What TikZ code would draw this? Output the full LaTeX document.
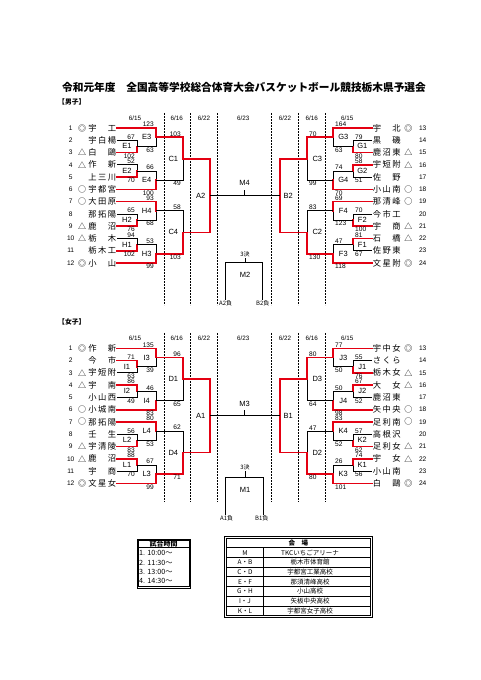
\documentclass[tikz,border=0pt]{standalone}
\usepackage{fontspec}
\setmainfont{Liberation Sans}
\setsansfont{Liberation Sans}
\newfontfamily\cjk{Noto Sans CJK JP}
\definecolor{wred}{RGB}{228,0,18}
\newcount\nodeno
\newcommand\nx{\global\advance\nodeno by 1\relax}
\newcommand\nm[3]{{\cjk\makebox[9.7pt]{#1}\makebox[9.7pt]{#2}\makebox[9.7pt]{#3}}}
\newcommand\mt[6]{%
  \draw[bk] (#2,#3) -- (#1,#3) -- (#1,#5) -- (#4,#5);%
  \ifcase#6\relax\or
    \draw[rd] (#2,#3) -- (#1,#3) -- (#1,{(#3+#5)/2});\or
    \draw[rd] (#4,#5) -- (#1,#5) -- (#1,{(#3+#5)/2});\or
    \draw[rd] (#2,#3) -- (#1,#3) -- (#1,#5) -- (#4,#5);\fi}
\newcommand\mL[8]{\mt{#1}{#2}{#3}{#4}{#5}{#6}%
  \nx\node[sc,anchor=south east] (s\the\nodeno) at (#1-2,#3-0.9) {#7};%
  \nx\node[sc,anchor=north east] (s\the\nodeno) at (#1-2,#5+0.9) {#8};}
\newcommand\mR[8]{\mt{#1}{#2}{#3}{#4}{#5}{#6}%
  \nx\node[sc,anchor=south west] (s\the\nodeno) at (#1+2,#3-0.9) {#7};%
  \nx\node[sc,anchor=north west] (s\the\nodeno) at (#1+2,#5+0.9) {#8};}
\newcommand\lab[3]{\nx\node[lb] (l\the\nodeno) at (#1,#2) {#3};}
\begin{document}
\begin{tikzpicture}[x=1pt,y=-1pt,
  bk/.style={draw=black,line width=0.7pt},
  rd/.style={draw=wred,line width=1.6pt,line cap=rect},
  sc/.style={font=\fontsize{6.6}{7}\selectfont,inner sep=0pt},
  lb/.style={font=\fontsize{7.5}{8}\selectfont,inner sep=0pt},
  dt/.style={font=\fontsize{6.3}{7}\selectfont,inner sep=0pt},
  num/.style={font=\fontsize{6.6}{7}\selectfont,inner sep=0pt},
  mk/.style={font=\cjk\fontsize{8}{8}\selectfont,inner sep=0pt},
  tm/.style={font=\fontsize{8.3}{9}\selectfont,inner sep=0pt},
  jp/.style={font=\cjk\fontsize{6}{7}\selectfont,inner sep=0pt},
  tb/.style={font=\cjk\fontsize{6.5}{7}\selectfont,inner sep=0pt},
  tl/.style={font=\cjk\fontsize{7.2}{8}\selectfont,inner sep=0pt},
  dsh/.style={draw=black,line width=0.5pt,dash pattern=on 1.6pt off 1.4pt}]
\useasboundingbox (0,0) rectangle (481,680);
\fill[white] (0,0) rectangle (481,680);
\node[font=\cjk\bfseries\fontsize{10.7}{12}\selectfont,inner sep=0pt] (title) at (244,87) {令和元年度　全国高等学校総合体育大会バスケットボール競技栃木県予選会};
\node[font=\cjk\bfseries\fontsize{6.8}{8}\selectfont,inner sep=0pt,anchor=west] (boys) at (58,102) {【男子】};
\node[font=\cjk\bfseries\fontsize{6.8}{8}\selectfont,inner sep=0pt,anchor=west] (girls) at (58,322) {【女子】};
% dashed separators
\foreach \x in {164,190.7,217,271.7,298.3,325.7}{
  \draw[dsh] (\x,113) -- (\x,305);
  \draw[dsh] (\x,333) -- (\x,502);}
% ================= BOYS =================
\foreach \x/\d [count=\k] in {135/6{/}15,176.7/6{/}16,204/6{/}22,243.3/6{/}23,285/6{/}22,311.7/6{/}16,347.3/6{/}15}
  {\node[dt] (bd\k) at (\x,118) {\d};}
\foreach \n/\m/\a/\b/\c [count=\i from 0] in {1/◎/宇//工,2//宇/白/楊,3/△/白//鷗,4/△/作//新,5//上/三/川,6/○/宇/都/宮,7/○/大/田/原,8//那/拓/陽,9/△/鹿//沼,10/△/栃//木,11//栃/木/工,12/◎/小//山}{
  \pgfmathsetmacro\yy{128+\i*12.27}
  \node[num] (bn\n) at (70.7,\yy) {\n};
  \node[mk] (bm\n) at (82,\yy) {\m};
  \node[tm,anchor=east] (bt\n) at (117,\yy) {\nm{\a}{\b}{\c}};}
\foreach \n/\m/\a/\b/\c [count=\i from 0] in {13/◎/宇//北,14//黒//磯,15/△/鹿/沼/東,16/△/宇/短/附,17//佐//野,18/○/小/山/南,19/○/那/清/峰,20//今/市/工,21/△/宇//商,22/△/石//橋,23//佐/野/東,24/◎/文/星/附}{
  \pgfmathsetmacro\yy{128+\i*12.27}
  \node[num] (bn\n) at (422.7,\yy) {\n};
  \node[mk] (bm\n) at (408.3,\yy) {\m};
  \node[tm,anchor=west] (bt\n) at (372,\yy) {\nm{\a}{\b}{\c}};}
% left boys
\mL{137}{117}{140.3}{117}{152.5}{2}{67}{102}
\mL{156}{117}{128}{137}{146.4}{1}{123}{63}
\mL{137}{117}{164.8}{117}{177.1}{2}{52}{70}
\mL{156}{137}{171}{117}{189.4}{2}{66}{100}
\mL{183}{156}{137.2}{156}{180.2}{1}{103}{49}
\mL{137}{117}{213.9}{117}{226.2}{2}{65}{76}
\mL{156}{117}{201.6}{137}{220}{1}{93}{68}
\mL{137}{117}{238.4}{117}{250.7}{2}{94}{102}
\mL{156}{137}{244.6}{117}{263}{2}{53}{99}
\mL{183}{156}{210.8}{156}{253.8}{2}{58}{103}
\mt{210}{183}{158.7}{183}{232.3}{3}
% right boys
\mR{353}{372}{140.3}{372}{152.5}{2}{79}{80}
\mR{333}{372}{128}{353}{146.4}{1}{164}{63}
\mR{353}{372}{164.8}{372}{177.1}{1}{58}{51}
\mR{333}{353}{171}{372}{189.4}{2}{74}{70}
\mR{307}{333}{137.2}{333}{180.2}{1}{70}{99}
\mR{353}{372}{213.9}{372}{226.2}{2}{70}{100}
\mR{333}{372}{201.6}{353}{220}{1}{69}{123}
\mR{353}{372}{238.4}{372}{250.7}{1}{81}{67}
\mR{333}{353}{244.6}{372}{263}{2}{47}{118}
\mR{307}{333}{210.8}{333}{253.8}{2}{83}{130}
\mt{280}{307}{158.7}{307}{232.3}{3}
\lab{127}{146.4}{E1}\lab{146.7}{137.2}{E3}\lab{127}{171}{E2}\lab{146.7}{180.2}{E4}
\lab{173.3}{158.7}{C1}\lab{127}{220}{H2}\lab{146.7}{210.8}{H4}\lab{127}{244.6}{H1}
\lab{146.7}{253.8}{H3}\lab{173.3}{232.3}{C4}\lab{200.7}{195.5}{A2}
\lab{362.3}{146.4}{G1}\lab{343.3}{137.2}{G3}\lab{362.3}{171}{G2}\lab{343.3}{180.2}{G4}
\lab{317.3}{158.7}{C3}\lab{362.3}{220}{F2}\lab{343.3}{210.8}{F4}\lab{362.3}{244.6}{F1}
\lab{343.3}{253.8}{F3}\lab{317.3}{232.3}{C2}\lab{288.3}{195.5}{B2}
% final boys
\draw[bk] (210,195.5) -- (280,195.5);
\draw[bk] (244.5,190) -- (244.5,195.5);
\node[lb] (m4) at (244.5,183) {M4};
% 3rd place boys
\node[jp] (b3) at (245,254) {3決};
\draw[bk] (245,258) -- (245,262.7);
\draw[bk] (225.7,300) -- (225.7,262.7) -- (262.7,262.7) -- (262.7,300);
\node[lb] (m2) at (245,275) {M2};
\node[jp,anchor=north] (a2l) at (225.7,300.2) {A2負};
\node[jp,anchor=north] (b2l) at (262.7,300.2) {B2負};
% ================= GIRLS =================
\begin{scope}[yshift=-220.3pt]
\foreach \x/\d [count=\k] in {135/6{/}15,176.7/6{/}16,204/6{/}22,243.3/6{/}23,285/6{/}22,311.7/6{/}16,347.3/6{/}15}
  {\node[dt] (gd\k) at (\x,118) {\d};}
\foreach \n/\m/\a/\b/\c [count=\i from 0] in {1/◎/作//新,2//今//市,3/△/宇/短/附,4/△/宇//南,5//小/山/西,6/○/小/城/南,7/○/那/拓/陽,8//壬//生,9/△/宇/清/陵,10/△/鹿//沼,11//宇//商,12/◎/文/星/女}{
  \pgfmathsetmacro\yy{128+\i*12.27}
  \node[num] (gn\n) at (70.7,\yy) {\n};
  \node[mk] (gm\n) at (82,\yy) {\m};
  \node[tm,anchor=east] (gt\n) at (117,\yy) {\nm{\a}{\b}{\c}};}
\foreach \n/\m/\a/\b/\c [count=\i from 0] in {13/◎/宇/中/女,14//さ/く/ら,15/△/栃/木/女,16/△/大//女,17//鹿/沼/東,18/○/矢/中/央,19/○/足/利/南,20//高/根/沢,21/△/足/利/女,22/△/宇//女,23//小/山/南,24/◎/白//鷗}{
  \pgfmathsetmacro\yy{128+\i*12.27}
  \node[num] (gn\n) at (422.7,\yy) {\n};
  \node[mk] (gm\n) at (408.3,\yy) {\m};
  \node[tm,anchor=west] (gt\n) at (372,\yy) {\nm{\a}{\b}{\c}};}
\mL{137}{117}{140.3}{117}{152.5}{1}{71}{63}
\mL{156}{117}{128}{137}{146.4}{1}{135}{39}
\mL{137}{117}{164.8}{117}{177.1}{1}{86}{49}
\mL{156}{137}{171}{117}{189.4}{2}{46}{83}
\mL{183}{156}{137.2}{156}{180.2}{1}{96}{65}
\mL{137}{117}{213.9}{117}{226.2}{2}{56}{83}
\mL{156}{117}{201.6}{137}{220}{1}{80}{53}
\mL{137}{117}{238.4}{117}{250.7}{1}{88}{70}
\mL{156}{137}{244.6}{117}{263}{2}{67}{99}
\mL{183}{156}{210.8}{156}{253.8}{2}{62}{71}
\mt{210}{183}{158.7}{183}{232.3}{3}
\mR{353}{372}{140.3}{372}{152.5}{2}{55}{76}
\mR{333}{372}{128}{353}{146.4}{1}{77}{50}
\mR{353}{372}{164.8}{372}{177.1}{1}{67}{52}
\mR{333}{353}{171}{372}{189.4}{2}{50}{98}
\mR{307}{333}{137.2}{333}{180.2}{1}{80}{64}
\mR{353}{372}{213.9}{372}{226.2}{2}{57}{62}
\mR{333}{372}{201.6}{353}{220}{1}{83}{52}
\mR{353}{372}{238.4}{372}{250.7}{1}{74}{56}
\mR{333}{353}{244.6}{372}{263}{2}{26}{101}
\mR{307}{333}{210.8}{333}{253.8}{2}{47}{80}
\mt{280}{307}{158.7}{307}{232.3}{3}
\lab{127}{146.4}{I1}\lab{146.7}{137.2}{I3}\lab{127}{171}{I2}\lab{146.7}{180.2}{I4}
\lab{173.3}{158.7}{D1}\lab{127}{220}{L2}\lab{146.7}{210.8}{L4}\lab{127}{244.6}{L1}
\lab{146.7}{253.8}{L3}\lab{173.3}{232.3}{D4}\lab{200.7}{195.5}{A1}
\lab{362.3}{146.4}{J1}\lab{343.3}{137.2}{J3}\lab{362.3}{171}{J2}\lab{343.3}{180.2}{J4}
\lab{317.3}{158.7}{D3}\lab{362.3}{220}{K2}\lab{343.3}{210.8}{K4}\lab{362.3}{244.6}{K1}
\lab{343.3}{253.8}{K3}\lab{317.3}{232.3}{D2}\lab{288.3}{195.5}{B1}
\draw[bk] (210,195.5) -- (280,195.5);
\draw[bk] (244.5,190) -- (244.5,195.5);
\node[lb] (m3) at (244.5,183.5) {M3};
\end{scope}
% 3rd place girls
\node[jp] (g3) at (245,467.3) {3決};
\draw[bk] (245,471.3) -- (245,477.3);
\draw[bk] (225.7,515) -- (225.7,477.3) -- (263.3,477.3) -- (263.3,515);
\node[lb] (m1) at (245,490) {M1};
\node[jp,anchor=north] (a1l) at (226.7,515.5) {A1負};
\node[jp,anchor=north] (b1l) at (261.7,515.5) {B1負};
% ================= TABLES =================
\draw[line width=0.5pt] (136.8,538.8) rectangle (190.5,587.8);
\draw[line width=0.5pt] (138.3,540.3) rectangle (189,586.3);
\draw[line width=0.5pt] (138.3,547.3) -- (189,547.3);
\node[tl,font=\cjk\bfseries\fontsize{7}{8}\selectfont] (tth) at (163.6,543.8) {試合時間};
\foreach \t/\y [count=\k] in {1. 10:00～/553.3,2. 11:30～/562.7,3. 13:00～/571.7,4. 14:30～/580.7}
  {\node[tl,anchor=west] (tt\k) at (139,\y) {\t};}
\draw[line width=0.5pt] (224.3,536) rectangle (372.3,617.3);
\draw[line width=0.5pt] (226.7,538) rectangle (370,615.3);
\draw[line width=0.5pt] (226.7,547.7) -- (370,547.7);
\draw[line width=0.5pt] (263.3,547.7) -- (263.3,615.3);
\foreach \y in {557.7,567.3,576.7,586.7,596,606}{\draw[line width=0.5pt] (226.7,\y) -- (370,\y);}
\node[tb,font=\cjk\bfseries\fontsize{6.5}{7}\selectfont] (vh) at (298.3,542.8) {会　場};
\foreach \a/\b/\y [count=\k] in {M/TKCいちごアリーナ/552.7,A・B/栃木市体育館/562.5,C・D/宇都宮工業高校/572,E・F/那須清峰高校/581.7,G・H/小山高校/591.3,I・J/矢板中央高校/601,K・L/宇都宮女子高校/610.7}
  {\node[tb] (va\k) at (245,\y) {\a}; \node[tb] (vb\k) at (310,\y) {\b};}
\end{tikzpicture}
\end{document}
